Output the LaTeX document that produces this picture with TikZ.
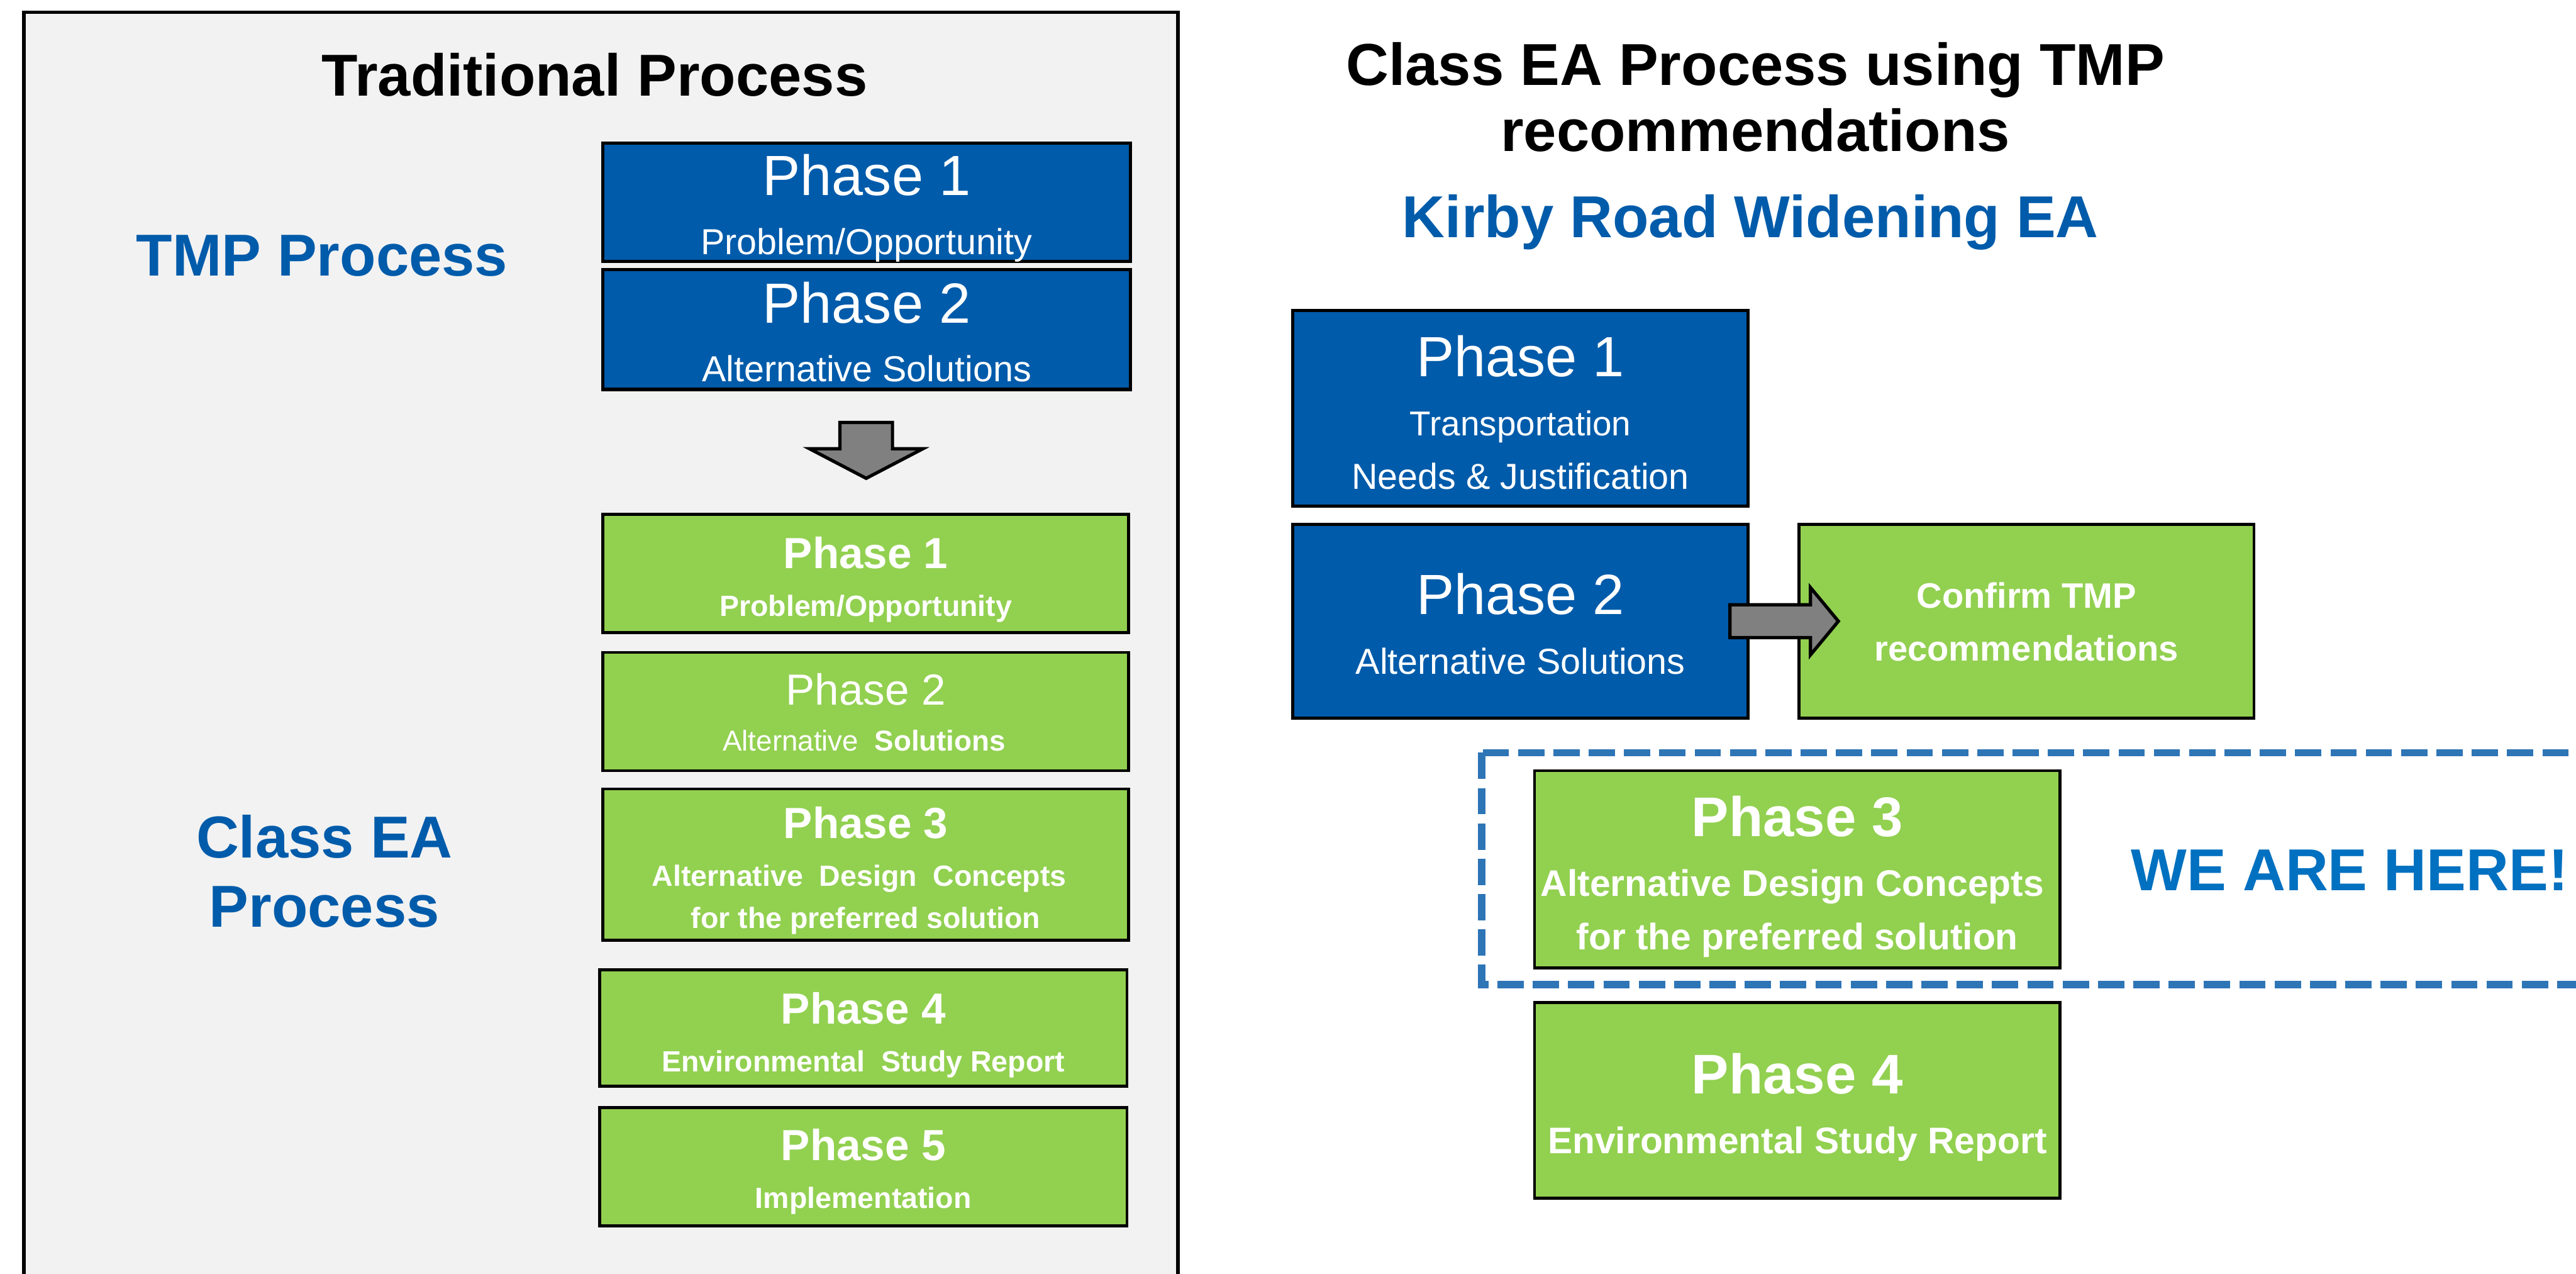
\documentclass[tikz,border=0pt]{standalone}
\usepackage{fontspec}
\setmainfont{Liberation Sans}
\usepackage{tikz}
\usetikzlibrary{calc}

\definecolor{panelgray}{HTML}{F2F2F2}
\definecolor{tmpblue}{RGB}{0,91,170}
\definecolor{eagreen}{HTML}{92D050}
\definecolor{hereblue}{HTML}{0070C0}
\definecolor{dashblue}{HTML}{2E75B6}
\definecolor{arrowgray}{HTML}{808080}

\newcommand{\fsize}[1]{\fontsize{#1}{#1}\selectfont}

\begin{document}
\begin{tikzpicture}[x=1pt, y=-1pt,
  panel/.style={draw=black, line width=2.2pt, fill=panelgray},
  tmpbox/.style={draw=black, line width=2pt, fill=tmpblue, inner sep=0pt},
  eabox/.style={draw=black, line width=1.8pt, fill=eagreen, inner sep=0pt},
  txt/.style={anchor=base, inner sep=0pt, text=white},
  heading/.style={anchor=base, inner sep=0pt, font=\fsize{36}\bfseries},
  phbig/.style={txt, font=\fsize{34.5}},
  phsub/.style={txt, font=\fsize{22}},
  gbig/.style={txt, font=\fsize{26.5}\bfseries},
  gsub/.style={txt, font=\fsize{17.8}\bfseries},
  kbig/.style={txt, font=\fsize{34}\bfseries},
  ksub/.style={txt, font=\fsize{22.5}\bfseries},
  blockarrow/.style={draw=black, line width=2pt, fill=arrowgray},
  herebox/.style={draw=dashblue, line width=4.5pt, dash pattern=on 16pt off 5.5pt},
]
\useasboundingbox (0,0) rectangle (1568,775);
\clip (0,0) rectangle (1568,775);
\fill[white] (0,0) rectangle (1568,775);

% traditional process panel
\draw[panel] (14.5,7.5) rectangle (717,800);
\node[heading] (trad) at (362,58.5) {Traditional Process};
\node[heading, text=tmpblue] (tmplbl) at (196,168) {TMP Process};
\node[heading, text=tmpblue] (ealblA) at (197.5,522) {Class EA};
\node[heading, text=tmpblue] (ealblB) at (197.5,564) {Process};

% TMP phases
\node[tmpbox, minimum width=321pt, minimum height=72pt] (tmpA) at (527.5,123) {};
\node[tmpbox, minimum width=321pt, minimum height=73pt] (tmpB) at (527.5,200.5) {};
\node[phbig] (tmpA1) at (527.5,119) {Phase 1};
\node[phsub] (tmpA2) at (527.5,155) {Problem/Opportunity};
\node[phbig] (tmpB1) at (527.5,196.5) {Phase 2};
\node[phsub] (tmpB2) at (527.5,232) {Alternative Solutions};

% Class EA phases
\node[eabox, minimum width=320pt, minimum height=72pt] (eaA) at (527,349) {};
\node[eabox, minimum width=320pt, minimum height=72pt] (eaB) at (527,433) {};
\node[eabox, minimum width=320pt, minimum height=92pt] (eaC) at (527,526) {};
\node[eabox, minimum width=321pt, minimum height=71pt] (eaD) at (525.5,625.5) {};
\node[eabox, minimum width=321pt, minimum height=72pt] (eaE) at (525.5,710) {};
\node[gbig] (eaA1) at (527,346) {Phase 1};
\node[gsub] (eaA2) at (527,375) {Problem/Opportunity};
\node[gbig, font=\fsize{26.5}] (eaB1) at (527,429) {Phase 2};
\node[gsub, font=\fsize{17.5}] (eaB2) at (526,457) {Alternative \ \textbf{Solutions}};
\node[gbig] (eaC1) at (527,510) {Phase 3};
\node[gsub] (eaC2) at (523,539) {Alternative \ Design \ Concepts};
\node[gsub] (eaC3) at (527,565) {for the preferred solution};
\node[gbig] (eaD1) at (525.5,623) {Phase 4};
\node[gsub] (eaD2) at (525.5,652) {Environmental \ Study Report};
\node[gbig] (eaE1) at (525.5,706) {Phase 5};
\node[gsub] (eaE2) at (525.5,735) {Implementation};

\coordinate (dn) at ($(tmpB.south)!0.5!(eaA.north)$);
\draw[blockarrow, shift={(dn)}] (-16,-18) -- (16,-18) -- (16,-2) -- (34.5,-2)
  -- (0,16) -- (-34.5,-2) -- (-16,-2) -- cycle;

% Kirby Road process
\node[heading] (clsA) at (1068.5,52) {Class EA Process using TMP};
\node[heading] (clsB) at (1068.5,92) {recommendations};
\node[heading, text=tmpblue] (kirby) at (1065.5,144.7) {Kirby Road Widening EA};

\node[tmpbox, minimum width=277pt, minimum height=119pt] (kA) at (925.5,248.5) {};
\node[tmpbox, minimum width=277pt, minimum height=118pt] (kB) at (925.5,378) {};
\node[eabox, minimum width=277pt, minimum height=118pt] (conf) at (1233.5,378) {};
\node[phbig] (kA1) at (925.5,229) {Phase 1};
\node[phsub, font=\fsize{21}] (kA2) at (925.5,265) {Transportation};
\node[phsub] (kA3) at (925.5,297.5) {Needs \& Justification};
\node[phbig] (kB1) at (925.5,374) {Phase 2};
\node[phsub] (kB2) at (925.5,410) {Alternative Solutions};
\node[ksub, font=\fsize{21.5}\bfseries] (conf1) at (1233.5,370) {Confirm TMP};
\node[ksub, font=\fsize{21.5}\bfseries] (conf2) at (1233.5,402) {recommendations};

\coordinate (rt) at ($(kB.east)+(21,0)$);
\draw[blockarrow, shift={(rt)}] (-33,-10) -- (16,-10) -- (16,-20.5) -- (33,0)
  -- (16,20.5) -- (16,10) -- (-33,10) -- cycle;

\draw[herebox] (902,458) rectangle (1640,599);
\node[eabox, minimum width=320pt, minimum height=120pt] (kC) at (1094,529) {};
\node[kbig] (kC1) at (1094,509) {Phase 3};
\node[ksub] (kC2) at (1091,545.5) {Alternative Design Concepts};
\node[ksub] (kC3) at (1094,578) {for the preferred solution};
\node[heading, text=hereblue, anchor=base west] (here) at (1297,541.7) {WE ARE HERE!};

\node[eabox, minimum width=320pt, minimum height=119pt] (kD) at (1094,669.5) {};
\node[kbig] (kD1) at (1094,665.5) {Phase 4};
\node[ksub] (kD2) at (1094,702) {Environmental Study Report};
\end{tikzpicture}
\end{document}
